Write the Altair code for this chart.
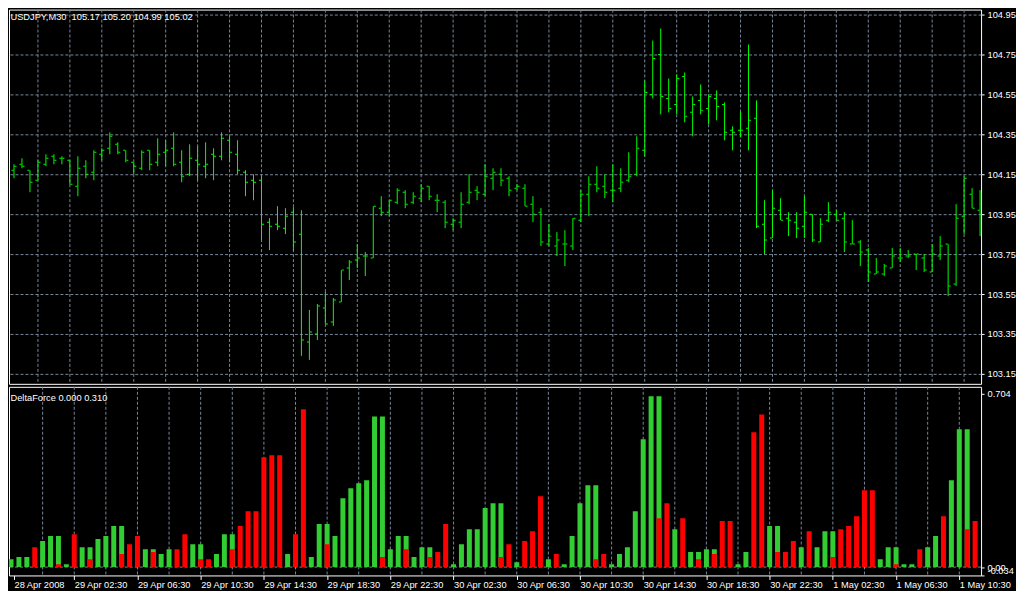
import json
import altair as alt
import pandas as pd

# ---------------- data ----------------
opens = [104.15,104.17,104.20,104.17,104.12,104.20,104.24,104.23,104.22,104.09,
         104.19,104.16,104.25,104.28,104.30,104.27,104.21,104.18,104.27,104.21,
         104.26,104.28,104.21,104.15,104.22,104.19,104.25,104.24,104.32,104.25,
         104.16,104.12,104.12,103.91,103.90,103.88,103.96,103.85,103.31,103.35,
         103.48,103.41,103.51,103.68,103.72,103.74,103.73,103.98,103.96,104.01,
         104.06,104.01,104.03,104.09,104.02,104.01,103.90,103.91,104.01,104.07,
         104.05,104.13,104.15,104.13,104.08,104.08,104.00,103.96,103.80,103.79,
         103.80,103.79,103.92,104.05,104.10,104.09,104.07,104.08,104.12,104.15,
         104.27,104.55,104.75,104.53,104.50,104.64,104.46,104.52,104.48,104.53,
         104.50,104.37,104.37,104.38,104.43,103.90,103.83,103.97,103.93,103.91,
         103.89,103.95,103.81,103.92,103.95,103.93,103.80,103.81,103.77,103.65,
         103.65,103.68,103.73,103.74,103.75,103.73,103.66,103.74,103.80,103.60,
         103.94,104.05,103.97]
highs = [104.21,104.20,104.23,104.17,104.22,104.25,104.25,104.24,104.22,104.24,
         104.22,104.27,104.28,104.36,104.31,104.27,104.21,104.27,104.27,104.33,
         104.32,104.36,104.27,104.30,104.29,104.31,104.28,104.36,104.34,104.32,
         104.17,104.15,104.14,103.93,103.99,103.98,103.985,103.97,103.47,103.50,
         103.56,103.53,103.67,103.72,103.80,103.76,103.99,104.04,104.02,104.08,
         104.07,104.06,104.10,104.09,104.05,104.02,103.93,104.06,104.15,104.09,
         104.20,104.18,104.18,104.14,104.10,104.10,104.04,103.98,103.90,103.86,
         103.87,103.93,104.07,104.14,104.19,104.15,104.20,104.18,104.26,104.34,
         104.62,104.82,104.88,104.63,104.65,104.66,104.54,104.60,104.55,104.57,
         104.51,104.39,104.465,104.80,104.52,104.02,104.07,104.03,103.96,103.96,
         104.04,103.95,103.93,104.01,103.97,103.96,103.92,103.82,103.78,103.73,
         103.70,103.78,103.78,103.77,103.75,103.75,103.80,103.84,103.80,104.00,
         104.14,104.08,104.07]
lows = [104.08,104.13,104.18,104.06,104.12,104.19,104.20,104.20,104.10,104.04,
        104.13,104.12,104.22,104.25,104.25,104.21,104.15,104.17,104.17,104.19,
        104.19,104.19,104.11,104.14,104.12,104.13,104.12,104.22,104.21,104.15,
        104.04,104.02,103.82,103.77,103.87,103.85,103.765,103.24,103.22,103.32,
        103.40,103.39,103.51,103.62,103.68,103.64,103.73,103.94,103.94,104.00,
        103.98,104.00,104.01,104.02,103.96,103.88,103.87,103.88,104.00,104.02,
        104.04,104.07,104.09,104.04,104.07,103.99,103.91,103.79,103.79,103.74,
        103.69,103.77,103.91,103.94,104.06,104.03,104.01,104.06,104.11,104.14,
        104.24,104.53,104.45,104.46,104.45,104.41,104.34,104.45,104.40,104.42,
        104.32,104.27,104.335,104.27,103.88,103.75,103.83,103.92,103.84,103.83,
        103.83,103.81,103.81,103.91,103.92,103.76,103.80,103.69,103.61,103.65,
        103.64,103.68,103.71,103.73,103.67,103.66,103.66,103.72,103.54,103.59,
        103.85,103.98,103.84]
closes = [104.18,104.19,104.19,104.11,104.21,104.23,104.22,104.23,104.10,104.18,
          104.15,104.26,104.27,104.34,104.26,104.22,104.19,104.26,104.20,104.25,
          104.27,104.20,104.14,104.23,104.20,104.20,104.24,104.33,104.26,104.17,
          104.11,104.11,103.90,103.89,103.89,103.94,103.81,103.32,103.36,103.49,
          103.40,103.52,103.67,103.71,103.73,103.74,103.99,103.96,104.02,104.07,
          104.00,104.04,104.08,104.04,104.02,103.91,103.92,104.00,104.06,104.06,
          104.14,104.16,104.12,104.07,104.09,103.99,103.95,103.81,103.84,103.82,
          103.80,103.93,104.05,104.10,104.08,104.06,104.07,104.11,104.14,104.28,
          104.56,104.73,104.54,104.48,104.63,104.44,104.50,104.47,104.54,104.49,
          104.36,104.36,104.37,104.42,103.89,103.82,103.98,103.92,103.92,103.88,
          103.96,103.82,103.90,103.96,103.92,103.81,103.80,103.76,103.66,103.66,
          103.69,103.74,103.73,103.74,103.75,103.67,103.75,103.79,103.59,103.93,
          104.13,103.98,104.00]

green = [0.032,0.041,0.041,0,0.106,0.126,0.126,0.012,0,0.081,
         0.081,0.114,0.126,0.167,0.167,0,0,0.073,0.073,0.053,
         0.073,0,0,0.093,0.093,0,0.053,0.134,0.134,0,
         0,0,0,0,0,0.053,0,0,0.041,0.175,
         0.175,0.126,0.280,0.321,0.341,0.353,0.613,0.613,0.073,0.126,
         0.126,0.041,0.081,0.081,0,0,0.012,0.093,0.154,0.154,
         0.240,0.260,0.260,0,0.020,0,0,0,0.032,0,
         0.012,0.126,0.260,0.333,0.333,0,0.012,0.053,0.081,0.227,
         0.520,0.695,0.695,0,0.154,0,0.061,0.061,0.073,0.073,
         0,0,0.012,0.061,0,0,0.167,0.167,0,0,
         0.081,0,0.081,0.146,0.146,0,0,0,0,0,
         0.032,0.081,0.081,0.012,0.012,0,0.081,0.126,0,0.353,
         0.561,0.561,0]
red = [0,0,0,0.081,0,0,0.012,0,0.134,0,
       0.032,0,0,0,0.053,0.093,0.126,0,0.061,0,
       0,0.073,0.134,0,0.032,0.032,0,0,0.073,0.167,
       0.227,0.227,0.447,0.455,0.455,0,0.134,0.642,0,0,
       0.093,0,0,0,0,0,0,0.041,0,0,
       0.073,0,0,0.041,0.061,0.175,0,0,0,0,
       0,0,0.041,0.093,0,0.106,0.146,0.288,0,0.053,
       0,0,0,0,0.032,0.053,0,0,0,0,
       0,0,0.199,0.260,0,0.199,0,0.032,0,0.053,
       0.187,0.187,0,0,0.548,0.621,0,0.061,0.061,0.106,
       0,0.146,0,0,0.041,0.154,0.167,0.207,0.313,0.313,
       0,0,0.012,0,0,0.073,0,0,0.207,0,
       0,0.154,0.187]

x_ticks = [0, 8, 16, 24, 32, 40, 48, 56, 64, 72, 80, 88, 96, 104, 112, 120]
x_labels = ["28 Apr 2008", "29 Apr 02:30", "29 Apr 06:30", "29 Apr 10:30",
            "29 Apr 14:30", "29 Apr 18:30", "29 Apr 22:30", "30 Apr 02:30",
            "30 Apr 06:30", "30 Apr 10:30", "30 Apr 14:30", "30 Apr 18:30",
            "30 Apr 22:30", "1 May 02:30", "1 May 06:30", "1 May 10:30"]
grid_k = list(range(4, 121, 4))
price_ticks = [103.15, 103.35, 103.55, 103.75, 103.95, 104.15, 104.35, 104.55, 104.75, 104.95]
ind_ticks = [0.704, 0.0, -0.034]
ind_labels = ["0.704", "0.00", "-0.034"]
price_title = "USDJPY,M30\u00a0\u00a0105.17 105.20 104.99 105.02"
ind_title = "DeltaForce 0.000 0.310"

# ---------------- styling ----------------
FONT = "Liberation Sans"
FS = 9.3
GRID = "#778899"
LIME = "#00ff00"
GREEN = "#32cd32"
RED = "#ff0000"
W = 974
HP = 375
HI = 189
K0 = 0.375          # first visible bar position at the left edge of the panels

bars = pd.DataFrame({"k": list(range(len(opens))), "o": opens, "h": highs,
                     "l": lows, "c": closes})
hist = pd.DataFrame({"k": list(range(len(green))), "g": green, "r": red})
gridf = pd.DataFrame({"k": grid_k})

XS = alt.Scale(domain=[K0, 122.125], nice=False, zero=False)
PS = alt.Scale(domain=[103.10, 104.975], nice=False, zero=False)
IS = alt.Scale(domain=[-0.034, 0.7332], nice=False, zero=False)

PAXIS = alt.Axis(orient="right", values=price_ticks, format=".2f", grid=True,
                 gridColor=GRID, gridDash=[3, 2], gridOpacity=1, domain=False,
                 tickColor="white", tickSize=3, labelColor="white", labelFont=FONT,
                 labelFontSize=FS, labelPadding=3, title=None, labelOverlap=False,
                 labelBound=False, labelFlush=False)

ind_expr = "{}[indexof({}, datum.value)]".format(json.dumps(ind_labels), json.dumps(ind_ticks))
IAXIS = alt.Axis(orient="right", values=ind_ticks, labelExpr=ind_expr, grid=False,
                 domain=False, tickColor="white", tickSize=3, labelColor="white",
                 labelFont=FONT, labelFontSize=FS, labelPadding=3, title=None,
                 labelOverlap=False, labelBound=False, labelFlush=False,
                 labelBaseline={"condition": {"test": "datum.value < 0", "value": "bottom"},
                                "value": "middle"})

# the first label sits at the left edge of the panel
tick_pos = [max(t, K0) for t in x_ticks]
x_expr = "{}[indexof({}, datum.value)]".format(json.dumps(x_labels), json.dumps(tick_pos))
XAXIS = alt.Axis(values=tick_pos, labelExpr=x_expr, labelAlign="left", grid=False,
                 domain=False, tickColor="white", tickSize=4, labelColor="white",
                 labelFont=FONT, labelFontSize=FS, labelPadding=1, title=None,
                 labelOverlap=False, labelBound=False, labelFlush=False)


def xp():
    return alt.X("k:Q", scale=XS, axis=None)


def yp(f):
    return alt.Y(f + ":Q", scale=PS, axis=PAXIS)


def xi():
    return alt.X("k:Q", scale=XS, axis=XAXIS)


def yi(f):
    return alt.Y(f + ":Q", scale=IS, axis=IAXIS)


# ---------------- price panel ----------------
vgrid_p = alt.Chart(gridf).mark_rule(color=GRID, strokeDash=[3, 2], strokeWidth=1).encode(x=xp())
hl = alt.Chart(bars).mark_rule(color=LIME, strokeWidth=1, clip=True).encode(
    x=xp(), y=yp("l"), y2="h:Q")
op = alt.Chart(bars).mark_tick(orient="horizontal", color=LIME, size=2, thickness=1,
                               xOffset=-1.5, opacity=1, clip=True).encode(x=xp(), y=yp("o"))
cl = alt.Chart(bars).mark_tick(orient="horizontal", color=LIME, size=2, thickness=1,
                               xOffset=1.5, opacity=1, clip=True).encode(x=xp(), y=yp("c"))
t1 = alt.Chart(pd.DataFrame({"t": [price_title]})).mark_text(
    align="left", baseline="alphabetic", color="white", font=FONT, fontSize=FS,
    x=1.5, y=10.5).encode(text="t:N")
price = alt.layer(vgrid_p, hl, op, cl, t1).properties(width=W, height=HP)

# ---------------- indicator panel ----------------
vgrid_i = alt.Chart(gridf).mark_rule(color=GRID, strokeDash=[3, 2], strokeWidth=1).encode(x=xi())
zero = alt.Chart(pd.DataFrame({"v": [0.0]})).mark_rule(
    color=GRID, strokeDash=[3, 2], strokeWidth=1).encode(y=yi("v"))
gb = alt.Chart(hist).transform_filter("datum.g > 0").mark_bar(
    color=GREEN, size=5, clip=True).encode(x=xi(), y=yi("g"))
rb = alt.Chart(hist).transform_filter("datum.r > 0").mark_bar(
    color=RED, size=5, clip=True).encode(x=xi(), y=yi("r"))
t2 = alt.Chart(pd.DataFrame({"t": [ind_title]})).mark_text(
    align="left", baseline="alphabetic", color="white", font=FONT, fontSize=FS,
    x=1.5, y=13.8).encode(text="t:N")
ind = alt.layer(vgrid_i, zero, gb, rb, t2).properties(width=W, height=HI)

chart = alt.vconcat(price, ind, spacing=1).configure_view(
    stroke="white", strokeWidth=1, fill="black"
).properties(
    background="black",
    padding=0,
)

chart.save("out.html", embed_options={"renderer": "svg", "actions": False})
